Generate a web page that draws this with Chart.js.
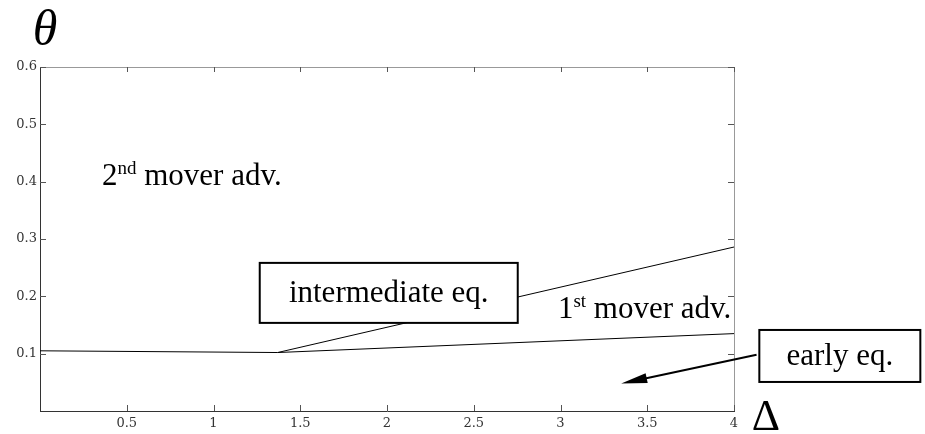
<!DOCTYPE html>
<html>
<head>
<meta charset="utf-8">
<script src="https://cdn.jsdelivr.net/npm/chart.js@4"></script>
<style>
  html, body { margin: 0; padding: 0; background: #fff; }
  #wrap { width: 925px; height: 434px; position: relative; }
</style>
</head>
<body>
<div id="wrap"><canvas id="chart" width="925" height="434"></canvas></div>
<script>
// tick labels
const xTicks = [0.5, 1, 1.5, 2, 2.5, 3, 3.5, 4];
const yTicks = [0.1, 0.2, 0.3, 0.4, 0.5, 0.6];

// lower boundary (early eq. / 1st mover adv.)
const lowerX = [0, 1.37, 4];
const lowerY = [0.105, 0.102, 0.135];

// upper boundary (1st mover adv. / intermediate eq.)
const upperX = [1.37, 4];
const upperY = [0.102, 0.286];

// arrow from "early eq." label into the region
const arrowX = [4.13, 3.35];
const arrowY = [0.098, 0.048];

const serif = "'Liberation Serif', 'Times New Roman', serif";
const tickFont = "'DejaVu Serif', serif";
Chart.defaults.font.family = serif;

function toPoints(xs, ys) {
  return xs.map((x, i) => ({ x: x, y: ys[i] }));
}

// inward ticks + grey top/right frame
const frame = {
  id: "frame",
  afterDatasetsDraw(chart) {
    const { ctx, chartArea: a, scales } = chart;
    ctx.save();
    ctx.strokeStyle = "#999";
    ctx.lineWidth = 1;
    ctx.beginPath();
    ctx.moveTo(a.left, a.top + 0.5);
    ctx.lineTo(a.right + 0.5, a.top + 0.5);
    ctx.lineTo(a.right + 0.5, a.bottom);
    ctx.stroke();

    ctx.strokeStyle = "#555";
    ctx.beginPath();
    xTicks.forEach(v => {
      const px = Math.round(scales.x.getPixelForValue(v)) + 0.5;
      ctx.moveTo(px, a.bottom);
      ctx.lineTo(px, a.bottom - 6);
      ctx.moveTo(px, a.top);
      ctx.lineTo(px, a.top + 5);
    });
    yTicks.forEach(v => {
      const py = Math.round(scales.y.getPixelForValue(v)) + 0.5;
      ctx.moveTo(a.left, py);
      ctx.lineTo(a.left + 6, py);
      ctx.moveTo(a.right, py);
      ctx.lineTo(a.right - 6, py);
    });
    ctx.stroke();
    ctx.restore();
  }
};

function boxLabel(ctx, text, cx, cy, w, h, size) {
  ctx.fillStyle = "#fff";
  ctx.fillRect(cx - w / 2, cy - h / 2, w, h);
  ctx.strokeStyle = "#000";
  ctx.lineWidth = 2;
  ctx.strokeRect(cx - w / 2, cy - h / 2, w, h);
  ctx.fillStyle = "#000";
  ctx.font = size + "px " + serif;
  ctx.textAlign = "center";
  ctx.textBaseline = "middle";
  ctx.fillText(text, cx, cy + 1);
}

function supLabel(ctx, base, sup, rest, x, y, size) {
  ctx.fillStyle = "#000";
  ctx.textAlign = "left";
  ctx.textBaseline = "alphabetic";
  ctx.font = size + "px " + serif;
  ctx.fillText(base, x, y);
  let w = ctx.measureText(base).width;
  ctx.font = Math.round(size * 0.62) + "px " + serif;
  ctx.fillText(sup, x + w, y - size * 0.36);
  w += ctx.measureText(sup).width;
  ctx.font = size + "px " + serif;
  ctx.fillText(rest, x + w, y);
}

const notes = {
  id: "notes",
  afterDraw(chart) {
    const { ctx, chartArea: a, scales } = chart;
    const X = v => scales.x.getPixelForValue(v);
    const Y = v => scales.y.getPixelForValue(v);
    ctx.save();

    // arrow
    const x0 = X(arrowX[0]), y0 = Y(arrowY[0]);
    const x1 = X(arrowX[1]), y1 = Y(arrowY[1]);
    const ang = Math.atan2(y1 - y0, x1 - x0);
    const hl = 26, hw = 5;
    ctx.strokeStyle = "#000";
    ctx.lineWidth = 2;
    ctx.beginPath();
    ctx.moveTo(x0, y0);
    ctx.lineTo(x1 - Math.cos(ang) * hl * 0.8, y1 - Math.sin(ang) * hl * 0.8);
    ctx.stroke();
    ctx.fillStyle = "#000";
    ctx.beginPath();
    ctx.moveTo(x1, y1);
    ctx.lineTo(x1 - Math.cos(ang) * hl - Math.sin(ang) * hw, y1 - Math.sin(ang) * hl + Math.cos(ang) * hw);
    ctx.lineTo(x1 - Math.cos(ang) * hl + Math.sin(ang) * hw, y1 - Math.sin(ang) * hl - Math.cos(ang) * hw);
    ctx.closePath();
    ctx.fill();

    boxLabel(ctx, "intermediate eq.", X(2.01), Y(0.206), 258, 60, 31);
    boxLabel(ctx, "early eq.", X(4.61), Y(0.096), 161, 52, 31);

    supLabel(ctx, "2", "nd", " mover adv.", X(0.357), Y(0.394), 31);
    supLabel(ctx, "1", "st", " mover adv.", X(2.985), Y(0.162), 31);

    // axis symbols
    ctx.fillStyle = "#000";
    ctx.textAlign = "center";
    ctx.textBaseline = "alphabetic";
    ctx.font = "italic 50px " + serif;
    ctx.fillText("\u03B8", 45, 45);
    ctx.font = "44px " + serif;
    ctx.fillText("\u0394", a.right + 32, a.bottom + 19);

    ctx.restore();
  }
};

new Chart(document.getElementById("chart"), {
  type: "line",
  data: {
    datasets: [
      {
        data: toPoints(lowerX, lowerY),
        borderColor: "#000",
        borderWidth: 1,
        pointRadius: 0,
        tension: 0
      },
      {
        data: toPoints(upperX, upperY),
        borderColor: "#000",
        borderWidth: 1,
        pointRadius: 0,
        tension: 0
      }
    ]
  },
  options: {
    responsive: false,
    animation: false,
    layout: { padding: { top: 67, right: 191, left: 0, bottom: 0 } },
    plugins: {
      legend: { display: false },
      tooltip: { enabled: false }
    },
    scales: {
      x: {
        type: "linear",
        min: 0,
        max: 4,
        afterBuildTicks: s => { s.ticks = xTicks.map(v => ({ value: v })); },
        afterFit: s => { s.height = 23; },
        grid: { display: false, drawTicks: false },
        border: { display: true, color: "#333", width: 1 },
        ticks: {
          padding: 5,
          color: "#333",
          font: { size: 13, family: tickFont },
          callback: v => String(v)
        }
      },
      y: {
        type: "linear",
        min: 0,
        max: 0.6,
        afterBuildTicks: s => { s.ticks = yTicks.map(v => ({ value: v })); },
        afterFit: s => { s.width = 40; },
        grid: { display: false, drawTicks: false },
        border: { display: true, color: "#333", width: 1 },
        ticks: {
          padding: 3,
          color: "#333",
          font: { size: 13, family: tickFont },
          callback: v => String(Math.round(v * 10) / 10)
        }
      }
    }
  },
  plugins: [frame, notes]
});
</script>
</body>
</html>
